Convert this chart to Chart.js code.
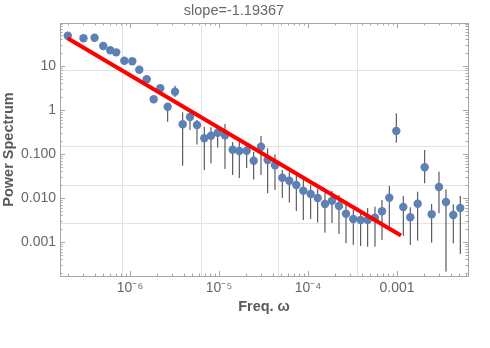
<!DOCTYPE html>
<html>
<head>
<meta charset="utf-8">
<script src="https://cdn.jsdelivr.net/npm/chart.js@4"></script>
<style>
  body { margin: 0; background: #fff; }
</style>
</head>
<body>
<canvas id="grafica" width="490" height="348"></canvas>
<script>
// Power spectrum data
const freq = [
  2.0e-7, 3.0e-7, 4.0e-7, 5.0e-7, 6.0e-7, 7.0e-7, 8.63e-7, 1.061e-6, 1.272e-6, 1.54e-6,
  1.846e-6, 2.19e-6, 2.652e-6, 3.204e-6, 3.909e-6, 4.722e-6, 5.66e-6, 6.836e-6, 8.131e-6, 9.67e-6,
  1.168e-5, 1.425e-5, 1.691e-5, 2.048e-5, 2.454e-5, 2.965e-5, 3.526e-5, 4.258e-5, 5.143e-5, 6.165e-5,
  7.388e-5, 8.855e-5, 1.072e-4, 1.285e-4, 1.552e-4, 1.861e-4, 2.23e-4, 2.673e-4, 3.228e-4, 3.909e-4,
  4.686e-4, 5.66e-4, 6.785e-4, 8.195e-4, 9.82e-4, 1.177e-3, 1.411e-3, 1.708e-3, 2.048e-3, 2.454e-3,
  2.965e-3, 3.553e-3, 4.291e-3, 5.143e-3
];
const power = [
  48.4, 42.3, 43.6, 28.3, 22.6, 20.3, 13.1, 12.7, 8.18, 4.95,
  1.74, 3.09, 1.18, 2.59, 0.47, 0.689, 0.454, 0.226, 0.259, 0.303,
  0.265, 0.1246, 0.1164, 0.1182, 0.0701, 0.1458, 0.0727, 0.0551, 0.0288, 0.0246,
  0.01966, 0.01459, 0.01227, 0.00996, 0.00728, 0.00865, 0.00655, 0.00438, 0.00332, 0.00315,
  0.00315, 0.00356, 0.00497, 0.01012, 0.331, 0.00622, 0.00363, 0.00739, 0.0496, 0.00425,
  0.0177, 0.00808, 0.00409, 0.0059
];
// error bar ends
const errLo = [
  41.4, 36.2, 37.3, 24.2, 19.3, 17.4, 10.46, 10.9, 7.0, 4.23,
  1.49, 2.51, 0.539, 1.96, 0.0539, 0.349, 0.1635, 0.0431, 0.0612, 0.1397,
  0.0454, 0.0332, 0.0283, 0.0478, 0.0262, 0.0332, 0.01274, 0.01513, 0.00996, 0.00787,
  0.00505, 0.00315, 0.00332, 0.00277, 0.00162, 0.00269, 0.001515, 0.000931, 0.000852, 0.000809,
  0.00078, 0.00078, 0.001107, 0.00222, 0.1796, 0.001365, 0.000852, 0.001067, 0.0215, 0.000961,
  0.00447, 0.000211, 0.000931, 0.000532
];
const errHi = [
  56.6, 49.5, 51.0, 33.1, 26.4, 23.8, 15.3, 14.9, 9.57, 5.79,
  2.04, 3.81, 1.433, 3.54, 0.881, 0.849, 0.589, 0.415, 0.402, 0.387,
  0.478, 0.186, 0.186, 0.1768, 0.1104, 0.255, 0.134, 0.098, 0.0431, 0.0388,
  0.0315, 0.0279, 0.01966, 0.01595, 0.01314, 0.01436, 0.01165, 0.0069, 0.00532, 0.00505,
  0.0059, 0.00632, 0.00897, 0.01866, 0.835, 0.01106, 0.00612, 0.01384, 0.1226, 0.00728,
  0.0394, 0.0157, 0.00716, 0.01106
];
// fitted power law, slope -1.19367
const fitX = [1.99e-7, 1.109e-3];
const fitY = [42.3, 1.4e-3];

// ticks and grid
const xTickValues = [1e-6, 1e-5, 1e-4, 1e-3];
const xTickLabels = ['10⁻⁶', '10⁻⁵', '10⁻⁴', '0.001'];
const yTickValues = [10, 1, 0.1, 0.01, 0.001];
const yTickLabels = ['10', '1', '0.100', '0.010', '0.001'];
const gridX = [8.34e-7, 6.44e-6, 4.72e-5, 3.56e-4];
const gridY = [8.05, 0.1436, 0.01866, 0.00256];

const xMin = 1.635e-7, xMax = 6.28e-3;
const yMin = 1.68e-4, yMax = 94.2;

// 1..9 x 10^k inside the range
function logTicks(min, max) {
  const out = [];
  for (let e = Math.floor(Math.log10(min)); e <= Math.ceil(Math.log10(max)); e++) {
    for (let m = 1; m < 10; m++) {
      const v = m * Math.pow(10, e);
      if (v >= min && v <= max) out.push({ value: v });
    }
  }
  return out;
}

function labelFor(values, labels, v) {
  const i = values.findIndex(t => Math.abs(t - v) / t < 1e-6);
  return i >= 0 ? labels[i] : '';
}

function isDecade(v) {
  const l = Math.log10(v);
  return Math.abs(l - Math.round(l)) < 1e-6;
}

// inward frame ticks on all four sides
const frameTicks = {
  id: 'frameTicks',
  beforeDatasetsDraw(chart) {
    const { ctx, chartArea: a, scales: { x, y } } = chart;
    ctx.save();
    ctx.strokeStyle = '#a6a6a6';
    ctx.lineWidth = 1;
    ctx.beginPath();
    x.ticks.forEach(t => {
      const px = Math.round(x.getPixelForValue(t.value)) + 0.5;
      const len = isDecade(t.value) ? 5 : 2.5;
      ctx.moveTo(px, a.bottom); ctx.lineTo(px, a.bottom - len);
      ctx.moveTo(px, a.top); ctx.lineTo(px, a.top + len);
    });
    y.ticks.forEach(t => {
      const py = Math.round(y.getPixelForValue(t.value)) + 0.5;
      const len = isDecade(t.value) ? 5 : 2.5;
      ctx.moveTo(a.left, py); ctx.lineTo(a.left + len, py);
      ctx.moveTo(a.right, py); ctx.lineTo(a.right - len, py);
    });
    ctx.stroke();
    ctx.restore();
  }
};

const puntos = freq.map((f, i) => ({ x: f, y: power[i] }));
const barras = [];
freq.forEach((f, i) => {
  barras.push({ x: f, y: errLo[i] }, { x: f, y: errHi[i] }, { x: f, y: null });
});
const ajuste = fitX.map((f, i) => ({ x: f, y: fitY[i] }));

const gris = '#666';
const ctx = document.getElementById('grafica').getContext('2d');

new Chart(ctx, {
  type: 'scatter',
  data: {
    datasets: [
      {
        type: 'line',
        data: ajuste,
        borderColor: '#ff0000',
        borderWidth: 4,
        borderCapStyle: 'butt',
        pointRadius: 0,
        fill: false
      },
      {
        data: puntos,
        backgroundColor: '#5e81b5',
        borderWidth: 0,
        pointRadius: 4.2,
        pointHoverRadius: 4.2
      },
      {
        type: 'line',
        data: barras,
        borderColor: '#3c3c3c',
        borderWidth: 1,
        pointRadius: 0,
        spanGaps: false,
        fill: false
      }
    ]
  },
  options: {
    responsive: false,
    animation: false,
    devicePixelRatio: 1,
    events: [],
    layout: { padding: { left: 0, right: 22, top: 0, bottom: 0 } },
    plugins: {
      legend: { display: false },
      tooltip: { enabled: false },
      title: {
        display: true,
        text: 'slope=-1.19367',
        color: gris,
        font: { family: 'Liberation Sans, Arial, sans-serif', size: 14.5, weight: 'normal' },
        padding: { top: 2, bottom: 3.6 }
      }
    },
    scales: {
      x: {
        type: 'logarithmic',
        position: 'bottom',
        min: xMin,
        max: xMax,
        afterBuildTicks: s => { s.ticks = logTicks(xMin, xMax); },
        afterFit: s => { s.height = 72; },
        grid: { drawOnChartArea: false, drawTicks: false },
        border: { color: '#a6a6a6' },
        ticks: {
          autoSkip: false,
          maxRotation: 0,
          padding: 4,
          color: gris,
          font: { family: 'Liberation Sans, Arial, sans-serif', size: 14 },
          callback: v => labelFor(xTickValues, xTickLabels, v)
        },
        title: {
          display: true,
          text: 'Freq. ω',
          color: '#5a5a5a',
          font: { family: 'Liberation Sans, Arial, sans-serif', size: 14.5, weight: 'bold' },
          padding: { top: 0, bottom: 32 }
        }
      },
      y: {
        type: 'logarithmic',
        position: 'left',
        min: yMin,
        max: yMax,
        afterBuildTicks: s => { s.ticks = logTicks(yMin, yMax); },
        afterFit: s => { s.width = 60; },
        grid: { drawOnChartArea: false, drawTicks: false },
        border: { color: '#a6a6a6' },
        ticks: {
          autoSkip: false,
          padding: 4,
          color: gris,
          font: { family: 'Liberation Sans, Arial, sans-serif', size: 14 },
          callback: v => labelFor(yTickValues, yTickLabels, v)
        },
        title: {
          display: true,
          text: 'Power Spectrum',
          color: '#5a5a5a',
          font: { family: 'Liberation Sans, Arial, sans-serif', size: 14.5, weight: 'bold' },
          padding: { top: 0, bottom: 0 }
        }
      },
      // grid lines and the top / right frame
      x2: {
        type: 'logarithmic',
        position: 'top',
        min: xMin,
        max: xMax,
        afterBuildTicks: s => { s.ticks = gridX.map(v => ({ value: v })); },
        afterFit: s => { s.height = 0; },
        grid: { color: '#e3e3e3', drawTicks: false },
        border: { color: '#a6a6a6' },
        ticks: { display: false }
      },
      y2: {
        type: 'logarithmic',
        position: 'right',
        min: yMin,
        max: yMax,
        afterBuildTicks: s => { s.ticks = gridY.map(v => ({ value: v })); },
        afterFit: s => { s.width = 0; },
        grid: { color: '#e3e3e3', drawTicks: false },
        border: { color: '#a6a6a6' },
        ticks: { display: false }
      }
    }
  },
  plugins: [frameTicks]
});
</script>
</body>
</html>
